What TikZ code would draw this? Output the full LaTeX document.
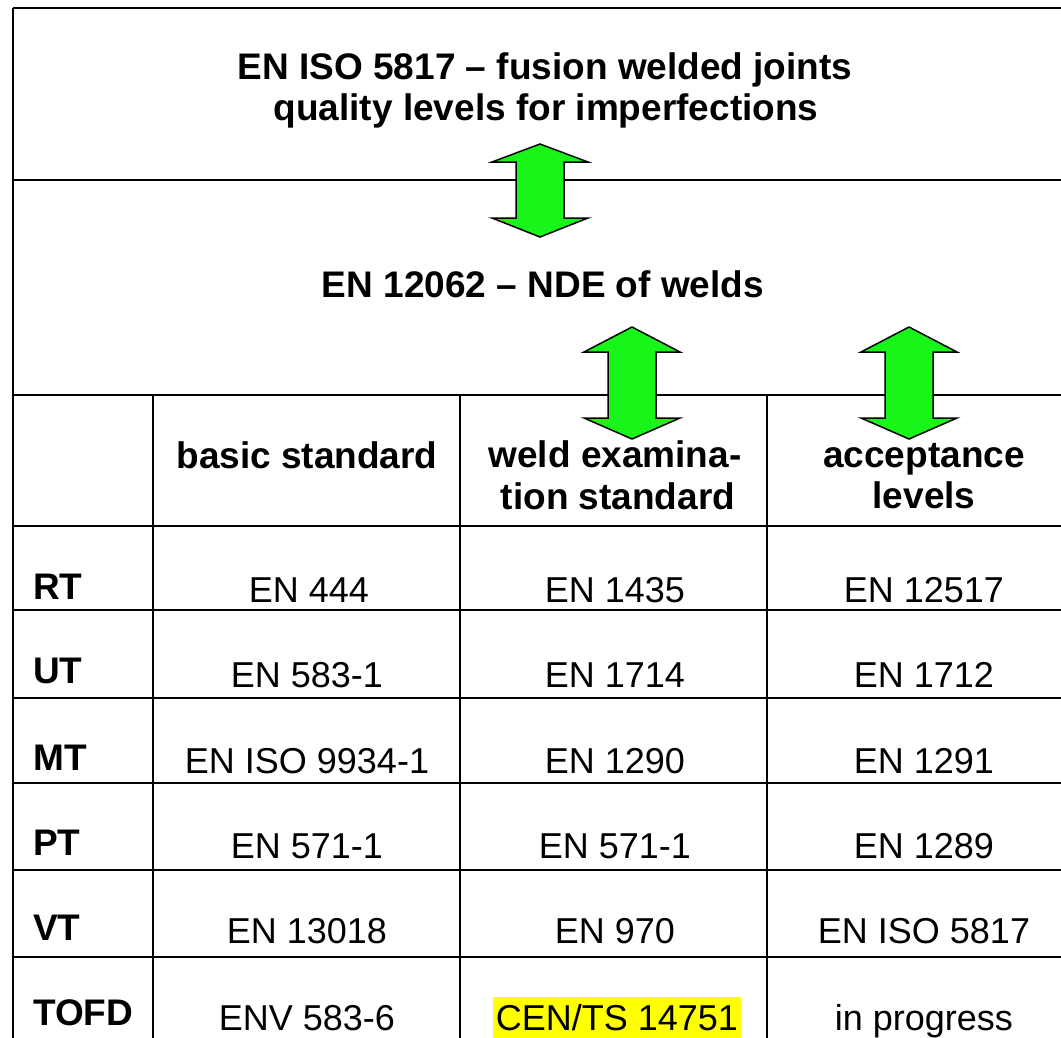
\documentclass[tikz,border=0pt]{standalone}
\usepackage{fontspec}
\setmainfont{Liberation Sans}
\definecolor{arrowgreen}{RGB}{25,245,25}
\definecolor{hiyellow}{RGB}{255,255,0}
\begin{document}
\begin{tikzpicture}[x=1pt,y=-1pt,
  grid/.style={line width=2pt, draw=black},
  greenarrow/.style={fill=arrowgreen, draw=black, line width=1.5pt, line join=miter},
  ttl/.style={font=\fontsize{37}{42}\selectfont\bfseries, anchor=base, inner sep=0pt},
  lbl/.style={font=\fontsize{37}{42}\selectfont\bfseries, anchor=base west, inner sep=0pt},
  val/.style={font=\fontsize{36}{42}\selectfont, anchor=base, inner sep=0pt},
  hilite/.style={fill=hiyellow, inner xsep=3pt, inner ysep=0pt, text height=33pt, text depth=8pt}
]
\useasboundingbox (0,0) rectangle (1061,1037);
\fill[white] (0,0) rectangle (1061,1037);
\clip (0,0) rectangle (1061,1037);

% highlight behind CEN/TS 14751
\node[val, hilite] (c62) at (617,1030) {CEN/TS 14751};

% table rules
\draw[grid] (13,8) -- (1075,8);
\draw[grid] (13,8) -- (13,1045);
\foreach \yy in {180,395,526,610,698,783,870,957}
  \draw[grid] (13,\yy) -- (1075,\yy);
\foreach \xx in {153,460,767}
  \draw[grid] (\xx,395) -- (\xx,1045);

% titles
\node[ttl] (t1) at (545,79) {EN ISO 5817 – fusion welded joints};
\node[ttl] (t2) at (546,120) {quality levels for imperfections};
\node[ttl] (t3) at (543,297) {EN 12062 – NDE of welds};

% header row
\node[ttl] (h1) at (307,468) {basic standard};
\node[ttl] (h2a) at (615,467) {weld examina-};
\node[ttl] (h2b) at (618,509) {tion standard};
\node[ttl] (h3a) at (924,467) {acceptance};
\node[ttl] (h3b) at (924,508) {levels};

% row labels
\node[lbl] (rRT) at (33,599) {RT};
\node[lbl] (rUT) at (33,683) {UT};
\node[lbl] (rMT) at (33,770) {MT};
\node[lbl] (rPT) at (33,855) {PT};
\node[lbl] (rVT) at (33,940) {VT};
\node[lbl] (rTOFD) at (33,1025) {TOFD};

% values
\node[val] (c11) at (309,602) {EN 444};
\node[val] (c12) at (615,602) {EN 1435};
\node[val] (c13) at (924,602) {EN 12517};
\node[val] (c21) at (307,687) {EN 583-1};
\node[val] (c22) at (615,687) {EN 1714};
\node[val] (c23) at (924,687) {EN 1712};
\node[val] (c31) at (307,773) {EN ISO 9934-1};
\node[val] (c32) at (615,773) {EN 1290};
\node[val] (c33) at (924,773) {EN 1291};
\node[val] (c41) at (307,858) {EN 571-1};
\node[val] (c42) at (615,858) {EN 571-1};
\node[val] (c43) at (924,858) {EN 1289};
\node[val] (c51) at (307,943) {EN 13018};
\node[val] (c52) at (615,943) {EN 970};
\node[val] (c53) at (924,943) {EN ISO 5817};
\node[val] (c61) at (307,1030) {ENV 583-6};
\node[val] (c63) at (924,1030) {in progress};

% green double arrows
\path[greenarrow] (540,144) -- (588,162) -- (564,162) -- (564,218) -- (588,218)
  -- (540,237) -- (492,218) -- (516,218) -- (516,162) -- (492,162) -- cycle;
\path[greenarrow] (632,327) -- (680,352) -- (656,352) -- (656,418) -- (680,418)
  -- (632,439) -- (584,418) -- (608,418) -- (608,352) -- (584,352) -- cycle;
\path[greenarrow] (909,327) -- (957,352) -- (933,352) -- (933,418) -- (957,418)
  -- (909,439) -- (861,418) -- (885,418) -- (885,352) -- (861,352) -- cycle;
\end{tikzpicture}
\end{document}
